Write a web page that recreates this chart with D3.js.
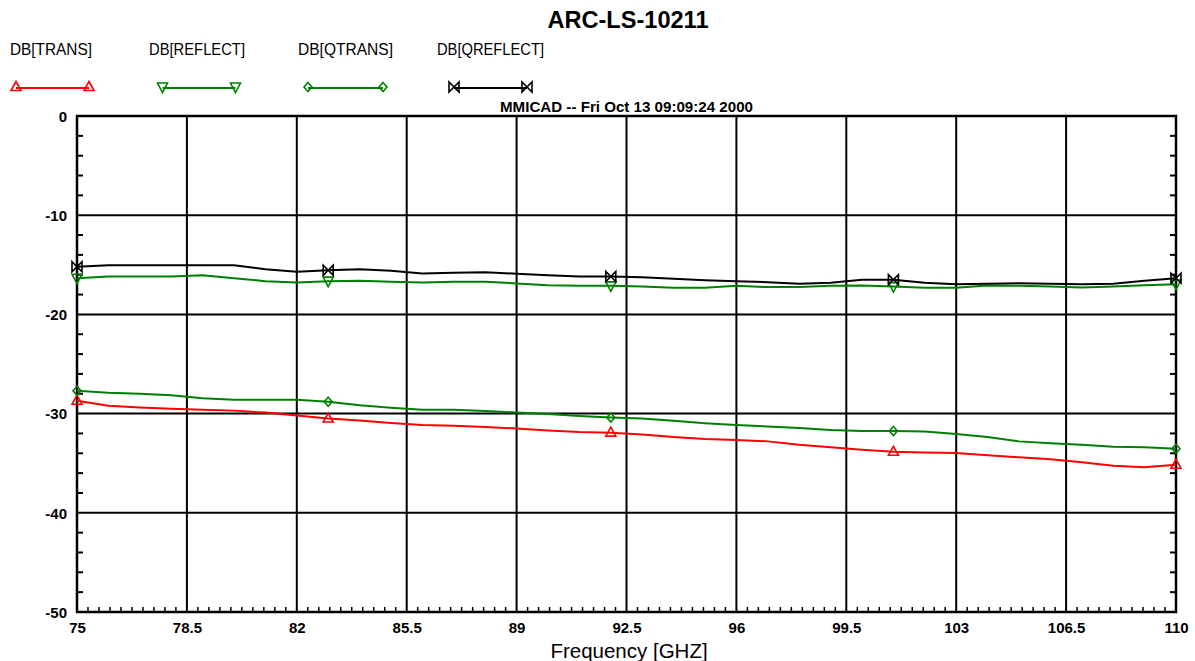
<!DOCTYPE html>
<html>
<head>
<meta charset="utf-8">
<script src="https://cdn.jsdelivr.net/npm/d3@7"></script>
<style>
  html, body { margin: 0; padding: 0; background: #fff; }
  svg { display: block; }
  text { font-family: "Liberation Sans", Arial, sans-serif; }
</style>
</head>
<body>
<svg id="chart" width="1195" height="661"></svg>
<script>
// ---------------- data ----------------
const chartTitle = "ARC-LS-10211";
const subTitle = "MMICAD -- Fri Oct 13 09:09:24 2000";
const xTitle = "Frequency [GHZ]";
const seriesNames = ["DB[TRANS]", "DB[REFLECT]", "DB[QTRANS]", "DB[QREFLECT]"];
const xTicks = [75, 78.5, 82, 85.5, 89, 92.5, 96, 99.5, 103, 106.5, 110];
const xTickLabels = ["75", "78.5", "82", "85.5", "89", "92.5", "96", "99.5", "103", "106.5", "110"];
const yTicks = [0, -10, -20, -30, -40, -50];
const yTickLabels = ["0", "-10", "-20", "-30", "-40", "-50"];
const markerFreqs = [75, 83, 92, 101, 110];

const freq = [75, 76, 77, 78, 79, 80, 81, 82, 83, 84, 85, 86, 87, 88, 89, 90, 91, 92,
              93, 94, 95, 96, 97, 98, 99, 100, 101, 102, 103, 104, 105, 106, 107, 108, 109, 110];
const dbTrans = [-28.7, -29.2, -29.38, -29.5, -29.6, -29.7, -29.9, -30.2, -30.5, -30.7, -30.95, -31.15,
                 -31.22, -31.35, -31.5, -31.7, -31.85, -31.92, -32.1, -32.35, -32.55, -32.65, -32.8, -33.15,
                 -33.4, -33.65, -33.85, -33.92, -33.97, -34.2, -34.4, -34.6, -34.9, -35.25, -35.4, -35.15];
const dbReflect = [-16.35, -16.18, -16.18, -16.18, -16.05, -16.35, -16.65, -16.78, -16.65, -16.6, -16.7, -16.78,
                   -16.7, -16.7, -16.88, -17.05, -17.12, -17.12, -17.2, -17.32, -17.32, -17.12, -17.25, -17.25,
                   -17.1, -17.08, -17.2, -17.32, -17.32, -17.08, -17.1, -17.2, -17.3, -17.2, -17.05, -16.95];
const dbQTrans = [-27.7, -27.9, -28.0, -28.15, -28.45, -28.6, -28.6, -28.6, -28.8, -29.15, -29.4, -29.6,
                  -29.6, -29.75, -29.88, -30.05, -30.25, -30.4, -30.5, -30.72, -30.97, -31.15, -31.3, -31.45,
                  -31.65, -31.75, -31.75, -31.8, -32.05, -32.35, -32.8, -33.0, -33.15, -33.35, -33.4, -33.55];
const dbQReflect = [-15.2, -15.05, -15.05, -15.05, -15.05, -15.05, -15.45, -15.7, -15.55, -15.45, -15.6, -15.88,
                    -15.8, -15.75, -15.9, -16.05, -16.18, -16.18, -16.25, -16.4, -16.55, -16.65, -16.75, -16.9,
                    -16.8, -16.5, -16.5, -16.8, -16.95, -16.9, -16.85, -16.9, -16.95, -16.9, -16.6, -16.35];

// ---------------- layout / style ----------------
const svg = d3.select("#chart");
const L = 77, R = 1176, T = 116, B = 612;
const x = d3.scaleLinear().domain([75, 110]).range([L, R]);
const y = d3.scaleLinear().domain([-50, 0]).range([B, T]);

const series = [
  { name: seriesNames[0], values: dbTrans,    color: "#ff0000", marker: "up",     lx: [16, 89],       tx: 10,  tw: 82 },
  { name: seriesNames[1], values: dbReflect,  color: "#008000", marker: "down",   lx: [162.5, 235.5], tx: 149, tw: 96 },
  { name: seriesNames[2], values: dbQTrans,   color: "#008000", marker: "diamond",lx: [308, 383],     tx: 298, tw: 95 },
  { name: seriesNames[3], values: dbQReflect, color: "#000000", marker: "bowtie", lx: [454, 527],     tx: 437, tw: 107 }
];

function markerPath(kind) {
  switch (kind) {
    case "up":      return "M0,-5.5L5,3.5L-5,3.5Z";
    case "down":    return "M-5,-4L5,-4L0,5.5Z";
    case "diamond": return "M0,-4.5L4,0L0,4.5L-4,0Z";
    case "bowtie":  return "M-5,-5L-5,5L5,-5L5,5Z";
  }
}

// grid
const grid = svg.append("g");
grid.selectAll("line.v").data(xTicks.slice(1, -1)).join("line")
  .attr("x1", d => x(d)).attr("x2", d => x(d)).attr("y1", T).attr("y2", B)
  .attr("stroke", "#000").attr("stroke-width", 2);
grid.selectAll("line.h").data(yTicks.slice(1, -1)).join("line")
  .attr("x1", L).attr("x2", R).attr("y1", d => y(d)).attr("y2", d => y(d))
  .attr("stroke", "#000").attr("stroke-width", 2);

// minor ticks
const yMinor = d3.range(0, -50, -2).filter(v => v % 10 !== 0);
grid.selectAll("line.yl").data(yMinor).join("line")
  .attr("x1", L).attr("x2", L + 6).attr("y1", d => y(d)).attr("y2", d => y(d))
  .attr("stroke", "#000").attr("stroke-width", 2);
grid.selectAll("line.yr").data(yMinor).join("line")
  .attr("x1", R - 6).attr("x2", R).attr("y1", d => y(d)).attr("y2", d => y(d))
  .attr("stroke", "#000").attr("stroke-width", 2);
const xMinor = d3.range(1, 100).map(i => 75 + i * 0.35).filter((v, i) => (i + 1) % 10 !== 0);
grid.selectAll("line.xm").data(xMinor).join("line")
  .attr("x1", d => x(d)).attr("x2", d => x(d)).attr("y1", B).attr("y2", B - 5)
  .attr("stroke", "#000").attr("stroke-width", 1.5);

// frame
svg.append("rect").attr("x", L).attr("y", T).attr("width", R - L).attr("height", B - T)
  .attr("fill", "none").attr("stroke", "#000").attr("stroke-width", 2.5);

// series lines
const line = d3.line().x((d, i) => x(freq[i])).y(d => y(d));
series.forEach(s => {
  svg.append("path").datum(s.values).attr("d", line)
    .attr("fill", "none").attr("stroke", s.color).attr("stroke-width", 2);
  const mk = markerFreqs.map(f => ({ f: f, v: s.values[freq.indexOf(f)] }));
  svg.append("g").selectAll("path").data(mk).join("path")
    .attr("transform", d => `translate(${x(d.f)},${y(d.v)})`)
    .attr("d", markerPath(s.marker))
    .attr("fill", "none").attr("stroke", s.color).attr("stroke-width", 1.6);
});

// axes labels
const yAxis = d3.axisLeft(y).tickValues(yTicks).tickSize(0).tickPadding(0)
  .tickFormat((d, i) => yTickLabels[i]);
const gy = svg.append("g").attr("transform", `translate(${L - 10},0)`).call(yAxis);
gy.select(".domain").remove();
gy.selectAll("text").attr("font-size", 15).attr("font-weight", "bold").attr("fill", "#000")
  .style("font-family", "'Liberation Sans', Arial, sans-serif").attr("dy", "0.35em");

const xAxis = d3.axisBottom(x).tickValues(xTicks).tickSize(0).tickPadding(0)
  .tickFormat((d, i) => xTickLabels[i]);
const gx = svg.append("g").attr("transform", `translate(0,${B})`).call(xAxis);
gx.select(".domain").remove();
gx.selectAll("text").attr("font-size", 15).attr("font-weight", "bold").attr("fill", "#000")
  .attr("dy", null).attr("y", 21)
  .style("font-family", "'Liberation Sans', Arial, sans-serif");

// titles
svg.append("text").attr("x", 628).attr("y", 28).attr("text-anchor", "middle")
  .attr("font-size", 24).attr("font-weight", "bold")
  .attr("textLength", 161).attr("lengthAdjust", "spacingAndGlyphs").text(chartTitle);
svg.append("text").attr("x", 500).attr("y", 112).attr("font-size", 14).attr("font-weight", "bold")
  .attr("textLength", 253).attr("lengthAdjust", "spacingAndGlyphs").text(subTitle);
svg.append("text").attr("x", 629).attr("y", 658).attr("text-anchor", "middle")
  .attr("font-size", 20.5).text(xTitle);

// legend
const lg = svg.append("g");
series.forEach(s => {
  lg.append("text").attr("x", s.tx).attr("y", 55).attr("font-size", 17)
    .attr("textLength", s.tw).attr("lengthAdjust", "spacingAndGlyphs").text(s.name);
  lg.append("line").attr("x1", s.lx[0]).attr("x2", s.lx[1]).attr("y1", 88).attr("y2", 88)
    .attr("stroke", s.color).attr("stroke-width", 2);
  s.lx.forEach(px => {
    lg.append("path").attr("transform", `translate(${px},87)`).attr("d", markerPath(s.marker))
      .attr("fill", "none").attr("stroke", s.color).attr("stroke-width", 1.6);
  });
});
</script>
</body>
</html>
